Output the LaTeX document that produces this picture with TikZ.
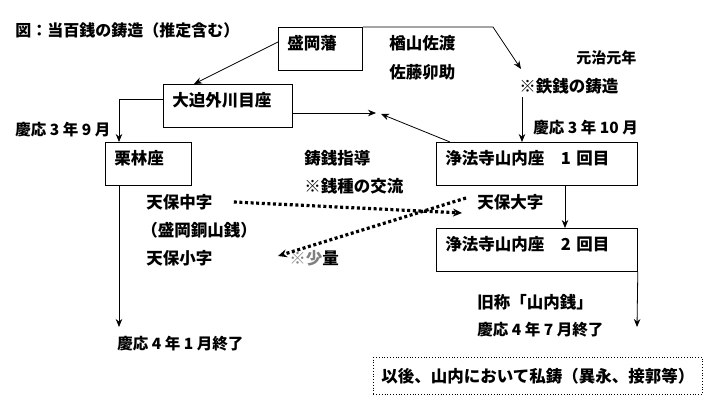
\documentclass[tikz,border=0pt]{standalone}
\usepackage{fontspec}
\setmainfont{Noto Sans CJK JP}
\usetikzlibrary{arrows.meta}
\tikzset{
  >={Stealth[length=8pt, width=6.5pt]},
  every node/.style={font=\fontsize{16.5}{20}\selectfont\bfseries},
  box/.style={draw, line width=0.8pt, anchor=north west, inner xsep=9pt, inner ysep=0pt,
    text height=22pt, text depth=21pt, align=left},
  lbl/.style={anchor=west, inner sep=1pt},
  dotarrow/.style={line width=3.2pt, dash pattern=on 3pt off 2.6pt, -{Stealth[length=9pt, width=8pt]}},
}

\begin{document}
\begin{tikzpicture}[x=1pt, y=-1pt, line width=0.8pt]
        \useasboundingbox (0,0) rectangle (715,412);

        \node[lbl, font=\fontsize{16}{19}\selectfont\bfseries] (title) at (14, 30) {図：当百銭の鋳造（推定含む）};

        \node[box, text width=66pt] (han) at (278, 27) {盛岡藩};
        \node[box, text width=111pt] (oha) at (163, 84) {大迫外川目座};
        \node[box, text width=68pt] (kuri) at (105, 142) {栗林座};
        \node[box, text width=183pt] (jobo1) at (436, 142) {浄法寺山内座　1 回目};
        \node[box, text width=183pt] (jobo2) at (436, 228) {浄法寺山内座　2 回目};

        \node[lbl] (nara) at (388, 43) {楢山佐渡};
        \node[lbl] (sato) at (388, 72) {佐藤卯助};
        \node[lbl, font=\fontsize{15}{18}\selectfont\bfseries] (genji) at (575, 58) {元治元年};
        \node[lbl] (tetsu) at (518, 86) {※鉄銭の鋳造};
        \node[lbl, font=\fontsize{15.5}{18}\selectfont\bfseries] (keio10) at (532, 128) {慶応 3 年 10 月};
        \node[lbl, font=\fontsize{15.5}{18}\selectfont\bfseries] (keio9) at (14, 130) {慶応 3 年 9 月};
        \node[lbl] (shido) at (303, 158) {鋳銭指導};
        \node[lbl] (koryu) at (303, 186) {※銭種の交流};
        \node[lbl] (chuji) at (145, 202) {天保中字};
        \node[lbl] (dozan) at (140, 230) {（盛岡銅山銭）};
        \node[lbl] (shoji) at (145, 258) {天保小字};
        \node[lbl] (daiji) at (476, 202) {天保大字};
        \node[lbl] (shoryo) at (288, 258) {{\color{gray}※少}量};
        \node[lbl, font=\fontsize{15.5}{18}\selectfont\bfseries] (end1) at (116, 344) {慶応 4 年 1 月終了};
        \node[lbl] (kyusho) at (476, 302) {旧称「山内銭」};
        \node[lbl, font=\fontsize{15.5}{18}\selectfont\bfseries] (end7) at (476, 330) {慶応 4 年 7 月終了};
        \node[draw, dotted, minimum width=329pt, minimum height=37pt, anchor=north west] (shichu) at (373, 357) {以後、山内において私鋳（異永、接郭等）};

        \coordinate (bend) at (493, 27);
        \coordinate (tetsutop) at (521, 69);
        \coordinate (tetsubot) at (522, 97);
        \coordinate (meet) at (376, 113);
        \coordinate (meet2) at (381, 114);
        \coordinate (kuriend) at (119, 327);
        \coordinate (joboend) at (637, 327);
        \coordinate (chujiend) at (462, 213);
        \coordinate (daijistart) at (466, 198);
        \coordinate (shoryoend) at (278, 256);

        \draw[->] ([yshift=-15pt]han.north west) -- ([xshift=31pt]oha.north west);
        \draw[->] (han.north east) -- (bend) -- (tetsutop);
        \draw[->] (tetsubot) -- (tetsubot |- jobo1.north);
        \draw[->] (oha.east |- meet) -- (meet);
        \draw[->] ([xshift=14pt]jobo1.north west) -- (meet2);
        \draw[->] ([yshift=-15pt]oha.north west) -| ([xshift=14pt]kuri.north west);
        \draw[->] ([xshift=14pt]kuri.south west) -- (kuriend);
        \draw[->] ([xshift=129pt]jobo1.south west) -- ([xshift=129pt]jobo2.north west);
        \draw[->] (jobo2.south east) -- (joboend);
        \draw[dotarrow] ([xshift=20pt]chuji.east) -- (chujiend);
        \draw[dotarrow] (daijistart) -- (shoryoend);
    \end{tikzpicture}
\end{document}
